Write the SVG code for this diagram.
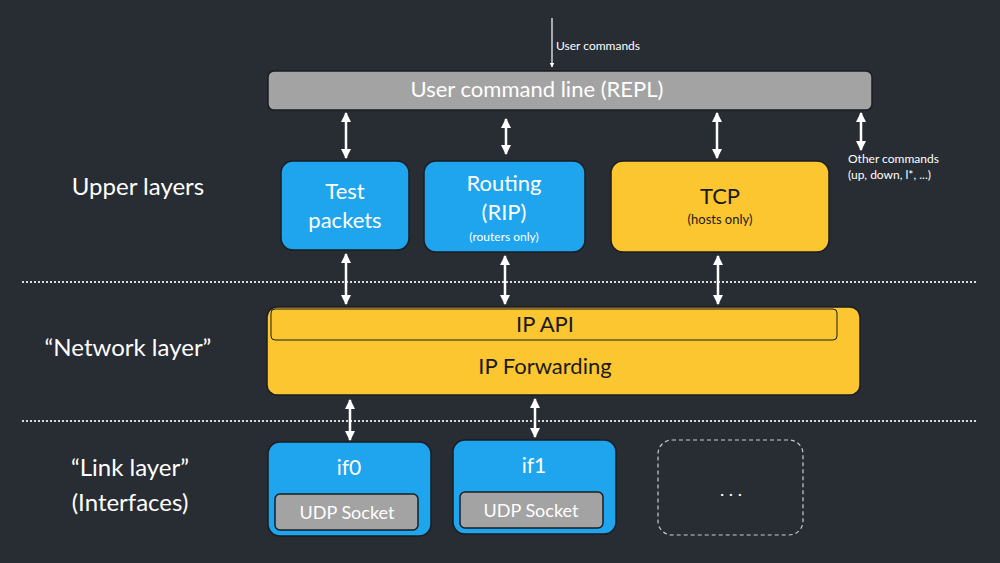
<svg xmlns="http://www.w3.org/2000/svg" width="1000" height="563" viewBox="0 0 1000 563">
<defs>
<marker id="ah" viewBox="0 0 10 10" refX="9" refY="5" markerWidth="4" markerHeight="4" orient="auto-start-reverse"><path d="M0,0 L10,5 L0,10 z" fill="#fff"/></marker>
<style>
text{font-family:"Lato","Liberation Sans",sans-serif;text-anchor:middle}
.w{fill:#fff}.k{fill:#1a1a1a}
.blue{fill:#1ea5ee;stroke:#1a1d22;stroke-width:1.5}
.yel{fill:#fcc630;stroke:#1a1d22;stroke-width:1.5}
.gray{fill:#a3a3a3;stroke:#1a1d22;stroke-width:1.5}
.arr{stroke:#fff;stroke-width:2.5;fill:none;marker-start:url(#ah);marker-end:url(#ah)}
.dot{stroke:#ddd;stroke-width:2;stroke-dasharray:2 2}
</style>
</defs>
<rect width="1000" height="563" fill="#282c33"/>
<line class="dot" x1="22" y1="282" x2="976" y2="282"/>
<line class="dot" x1="22" y1="421" x2="976" y2="421"/>
<text class="w" x="138" y="195" font-size="24">Upper layers</text>
<text class="w" x="128" y="356" font-size="24">“Network layer”</text>
<text class="w" x="130" y="476" font-size="24">“Link layer”</text>
<text class="w" x="130" y="511" font-size="24">(Interfaces)</text>
<g id="repl"><rect class="gray" x="268" y="71" width="604" height="39" rx="6"/><text class="w" x="537" y="97" font-size="22">User command line (REPL)</text></g>
<g id="test"><rect class="blue" x="281" y="161" width="128" height="89" rx="12"/><text class="w" x="345" y="199" font-size="22">Test</text><text class="w" x="345" y="228" font-size="22">packets</text></g>
<g id="rip"><rect class="blue" x="424" y="161" width="161" height="91" rx="12"/><text class="w" x="504" y="191" font-size="22">Routing</text><text class="w" x="504" y="220" font-size="22">(RIP)</text><text class="w" x="504" y="241" font-size="12">(routers only)</text></g>
<g id="tcp"><rect class="yel" x="611" y="161" width="218" height="91" rx="12"/><text class="k" x="720" y="204" font-size="22">TCP</text><text class="k" x="720" y="224" font-size="13">(hosts only)</text></g>
<g id="ip"><rect class="yel" x="267" y="307" width="593" height="88" rx="10"/><rect x="271" y="309" width="566" height="31" rx="4" fill="none" stroke="#1a1d22" stroke-width="1"/><text class="k" x="545" y="332" font-size="22">IP API</text><text class="k" x="545" y="374" font-size="22">IP Forwarding</text></g>
<g id="if0"><rect class="blue" x="268" y="442" width="163" height="94" rx="12"/><text class="w" x="349" y="475" font-size="21">if0</text><rect class="gray" x="275" y="494" width="143" height="36" rx="5"/><text class="w" x="347" y="519" font-size="18">UDP Socket</text></g>
<g id="if1"><rect class="blue" x="453" y="440" width="163" height="94" rx="12"/><text class="w" x="534" y="473" font-size="21">if1</text><rect class="gray" x="460" y="492" width="143" height="36" rx="5"/><text class="w" x="531" y="517" font-size="18">UDP Socket</text></g>
<g id="more"><rect x="658" y="440" width="145" height="95" rx="14" fill="none" stroke="#ccc" stroke-width="1.2" stroke-dasharray="4 3"/><text class="w" x="731" y="496" font-size="18">. . .</text></g>
<g id="labels"><text class="w" x="556" y="50" font-size="12" text-anchor="start" style="text-anchor:start">User commands</text><text class="w" x="848" y="163" font-size="12" style="text-anchor:start">Other commands</text><text class="w" x="848" y="179" font-size="12" style="text-anchor:start">(up, down, l*, ...)</text></g>
<g id="connectors">
<line x1="552" y1="18" x2="552" y2="67" stroke="#fff" stroke-width="1.2" marker-end="url(#ah)"/>
<line class="arr" x1="346" y1="113" x2="346" y2="158"/>
<line class="arr" x1="506" y1="119" x2="506" y2="154"/>
<line class="arr" x1="717" y1="113" x2="717" y2="158"/>
<line class="arr" x1="861" y1="113" x2="861" y2="150"/>
<line class="arr" x1="346" y1="254" x2="346" y2="304"/>
<line class="arr" x1="505" y1="256" x2="505" y2="304"/>
<line class="arr" x1="718" y1="256" x2="718" y2="304"/>
<line class="arr" x1="350" y1="400" x2="350" y2="440"/>
<line class="arr" x1="535" y1="399" x2="535" y2="437"/>
</g>
</svg>
